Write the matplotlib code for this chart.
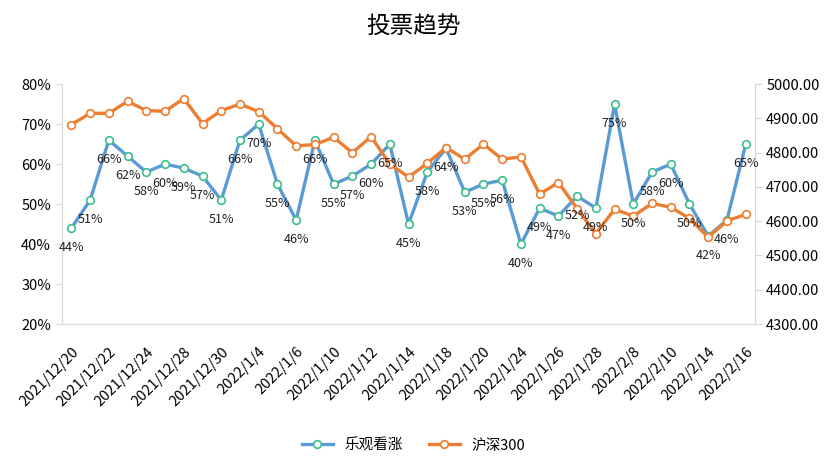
import matplotlib.pyplot as plt
from matplotlib.ticker import FuncFormatter, MultipleLocator

plt.rcParams['font.family'] = ['Noto Sans CJK SC', 'DejaVu Sans']

dates = [
    "2021/12/20", "2021/12/21", "2021/12/22", "2021/12/23", "2021/12/24",
    "2021/12/27", "2021/12/28", "2021/12/29", "2021/12/30", "2021/12/31",
    "2022/1/4", "2022/1/5", "2022/1/6", "2022/1/7", "2022/1/10",
    "2022/1/11", "2022/1/12", "2022/1/13", "2022/1/14", "2022/1/17",
    "2022/1/18", "2022/1/19", "2022/1/20", "2022/1/21", "2022/1/24",
    "2022/1/25", "2022/1/26", "2022/1/27", "2022/1/28", "2022/2/7",
    "2022/2/8", "2022/2/9", "2022/2/10", "2022/2/11", "2022/2/14",
    "2022/2/15", "2022/2/16",
]
bullish = [44, 51, 66, 62, 58, 60, 59, 57, 51, 66, 70, 55, 46, 66, 55, 57, 60, 65, 45,
           58, 64, 53, 55, 56, 40, 49, 47, 52, 49, 75, 50, 58, 60, 50, 42, 46, 65]
hs300 = [4882, 4915, 4915, 4950, 4923, 4921, 4958, 4885, 4923, 4942,
         4920, 4870, 4820, 4824, 4845, 4800, 4847, 4767, 4729, 4769,
         4815, 4781, 4825, 4781, 4788, 4679, 4713, 4637, 4564, 4635,
         4615, 4652, 4641, 4608, 4553, 4601, 4620]

blue = "#5B9BD5"
orange = "#ED7D31"
green = "#3DBE8B"
grey = "#D9D9D9"

fig = plt.figure(figsize=(8.27, 4.73), dpi=100)
ax1 = fig.add_axes([0.075, 0.315, 0.838, 0.507])
ax2 = ax1.twinx()

x = list(range(len(dates)))
l1, = ax1.plot(x, bullish, color=blue, lw=2.4, marker="o", ms=5.5,
               mfc="white", mec=green, mew=1.2, label="乐观看涨")
l2, = ax2.plot(x, hs300, color=orange, lw=2.4, marker="o", ms=5.5,
               mfc="white", mec=orange, mew=1.2, label="沪深300")

# data labels under the blue points, drawn on top of both lines
for xi, v in zip(x, bullish):
    ax2.annotate(f"{v}%", xy=(xi, v), xycoords=ax1.transData,
                 xytext=(0, -14), textcoords="offset points",
                 ha="center", va="center", fontsize=9, color="#222222")

ax1.set_xlim(-0.5, len(dates) - 0.5)
ax1.set_ylim(20, 80)
ax1.yaxis.set_major_locator(MultipleLocator(10))
ax1.yaxis.set_major_formatter(FuncFormatter(lambda v, p: f"{v:.0f}%"))
ax2.set_ylim(4300, 5000)
ax2.yaxis.set_major_locator(MultipleLocator(100))
ax2.yaxis.set_major_formatter(FuncFormatter(lambda v, p: f"{v:.2f}"))

ax1.set_xticks(x[::2])
ax1.set_xticklabels(dates[::2], rotation=45, ha="right", rotation_mode="anchor",
                    fontsize=10.5)
ax1.tick_params(axis="x", length=0, pad=15)
ax1.tick_params(axis="y", length=5, color=grey, labelsize=10.5, pad=3)
ax2.tick_params(axis="y", length=5, color=grey, labelsize=10.5, pad=3)

for ax in (ax1, ax2):
    ax.spines["top"].set_visible(False)
    for s in ("left", "right", "bottom"):
        ax.spines[s].set_color(grey)

fig.text(0.5, 0.943, "投票趋势", ha="center", va="center", fontsize=17)
fig.legend(handles=[l1, l2], loc="center", bbox_to_anchor=(0.5, 0.058),
           ncol=2, frameon=False, fontsize=10.5, handlelength=2.1,
           columnspacing=1.8)

fig.savefig("out.png", dpi=100)
